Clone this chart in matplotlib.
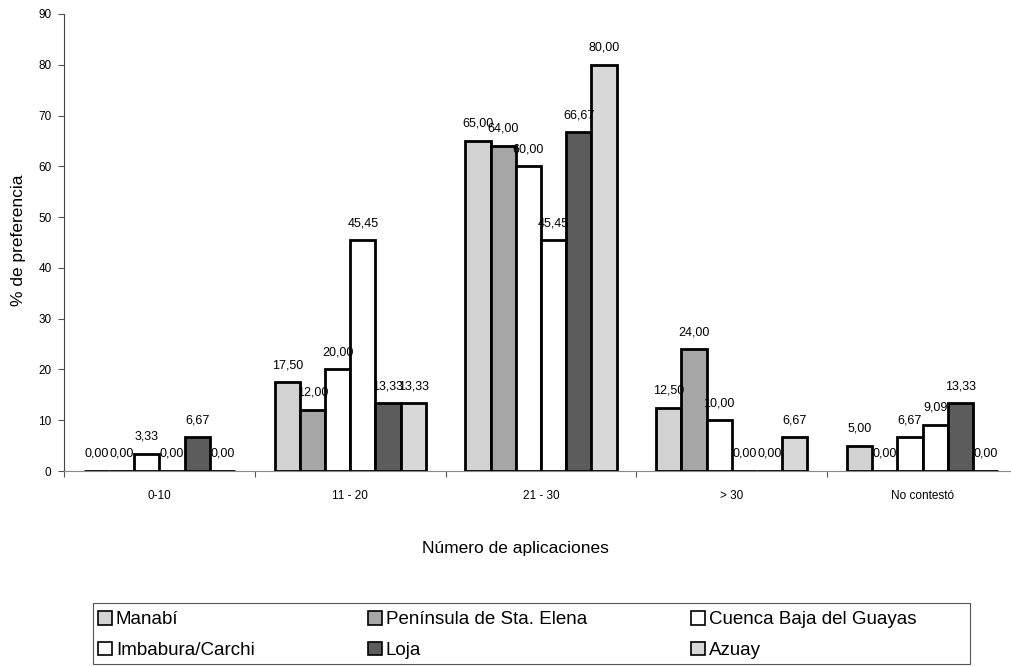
import numpy as np
import matplotlib.pyplot as plt
from matplotlib.ticker import FixedLocator
from matplotlib.patches import Rectangle

plt.rcParams['font.family'] = ['Liberation Sans', 'DejaVu Sans']

# datos
grupos = ['0-10', '11 - 20', '21 - 30', '> 30', 'No contestó']
series = ['Manabí', 'Península de Sta. Elena', 'Cuenca Baja del Guayas',
          'Imbabura/Carchi', 'Loja', 'Azuay']
manabi = [0.00, 17.50, 65.00, 12.50, 5.00]
peninsula = [0.00, 12.00, 64.00, 24.00, 0.00]
cuenca = [3.33, 20.00, 60.00, 10.00, 6.67]
imbabura = [0.00, 45.45, 45.45, 0.00, 9.09]
loja = [6.67, 13.33, 66.67, 0.00, 13.33]
azuay = [0.00, 13.33, 80.00, 6.67, 0.00]
valores = [manabi, peninsula, cuenca, imbabura, loja, azuay]
colores = ['#d2d2d2', '#a6a6a6', '#ffffff', '#ffffff', '#5c5c5c', '#d8d8d8']

fig = plt.figure(figsize=(10.12, 6.67), dpi=100)
ax = fig.add_axes([64/1012, 1-471/667, (1018-64)/1012, (471-14)/667])

x = np.arange(len(grupos))
w = 0.132
barras = []
for i, (vals, col) in enumerate(zip(valores, colores)):
    pos = x + (i - 2.5)*w
    b = ax.bar(pos, vals, w, color=col, edgecolor='black', linewidth=2,
               label=series[i], zorder=3)
    barras.append(b)
    for px, v in zip(pos, vals):
        ax.annotate(('%.2f' % v).replace('.', ','), (px, v), xytext=(0, 8),
                    textcoords='offset points', ha='center', va='bottom',
                    fontsize=9, zorder=4)

ax.set_xlim(-0.5, len(grupos) - 0.5)
ax.set_ylim(0, 90)
ax.set_yticks(np.arange(0, 91, 10))
ax.xaxis.set_major_locator(FixedLocator(np.arange(-0.5, len(grupos), 1.0)))
ax.xaxis.set_major_formatter(plt.NullFormatter())
ax.set_xticks(x, minor=True)
ax.set_xticklabels(grupos, minor=True)
ax.tick_params(axis='x', which='major', length=4, color='#555555', direction='out')
ax.tick_params(axis='x', which='minor', length=0, labelsize=8.5, pad=14)
ax.tick_params(axis='y', length=4, color='#555555', labelsize=8.5, pad=5)
for s in ['top', 'right']:
    ax.spines[s].set_visible(False)
ax.spines['left'].set_color('#444444')
ax.spines['bottom'].set_color('#888888')

fig.text(515/1012, 1-548/667, 'Número de aplicaciones', ha='center', va='center', fontsize=12.5)
fig.text(19/1012, 1-240/667, '% de preferencia', ha='center', va='center',
         rotation=90, fontsize=12.5)

# marco de la leyenda
fig.patches.append(Rectangle((93/1012, 1-664/667), (970-93)/1012, 61/667,
                             transform=fig.transFigure, fill=False,
                             edgecolor='#555555', linewidth=0.8))
# leyenda en tres columnas (orden por filas como en el original)
columnas = [(0, 3), (1, 4), (2, 5)]
xcol = [98, 368, 691]
for (a, b), xc in zip(columnas, xcol):
    leg = fig.legend([barras[a], barras[b]], [series[a], series[b]],
                     loc='center left', bbox_to_anchor=(xc/1012, 1-635/667),
                     fontsize=13.5, frameon=False, borderpad=0, borderaxespad=0,
                     handlelength=0.75, handleheight=0.75, handletextpad=0.2,
                     labelspacing=0.72)
    for h in leg.legend_handles:
        h.set_linewidth(1.2)

fig.savefig('out.png', dpi=100)
